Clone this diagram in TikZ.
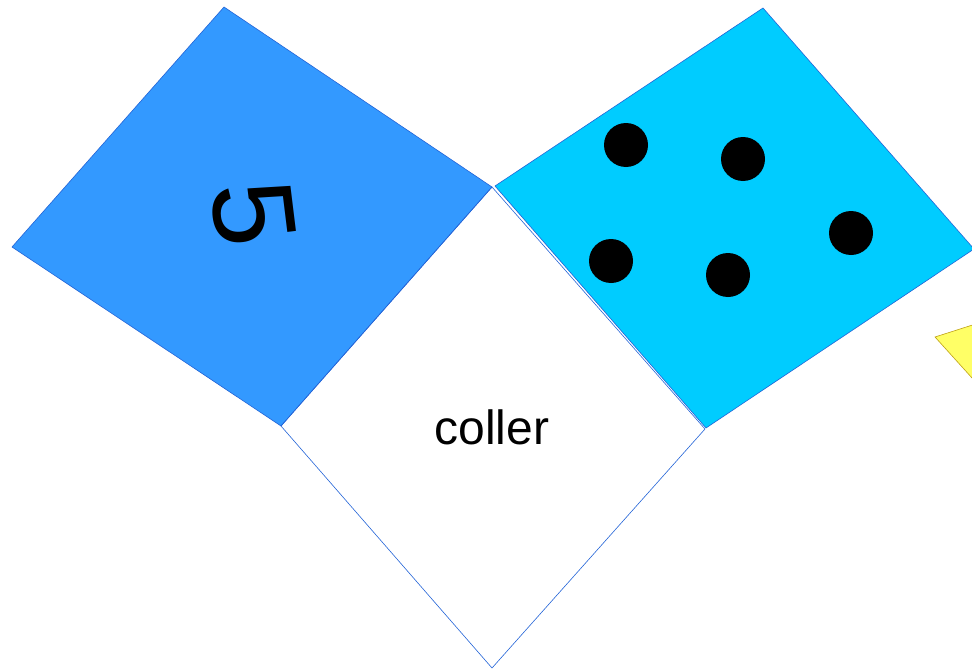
\documentclass[tikz,border=0pt]{standalone}
\usepackage{fontspec}
\setmainfont{Liberation Sans}
\usepackage{tikz}
\usetikzlibrary{positioning,calc}

\definecolor{faceblue}{RGB}{51,153,255}
\definecolor{facecyan}{RGB}{0,204,255}
\definecolor{edgeblue}{RGB}{35,100,215}
\definecolor{tabyellow}{RGB}{255,255,102}
\definecolor{tabedge}{RGB}{190,160,20}

\begin{document}
\begin{tikzpicture}[x=1pt,y=-1pt,
  face/.style={draw=edgeblue, line width=0.6pt, line join=miter},
  pip/.style={fill=black, circle, inner sep=0pt, minimum size=44pt}]
% Frame
\useasboundingbox (0,0) rectangle (972,669);
\clip (0,0) rectangle (972,669);
% Corners of the net
\coordinate (lt) at (224,7);
\coordinate (ll) at (12,247);
\coordinate (lb) at (281,426);
\coordinate (mt) at (492,187);
\coordinate (mb) at (492,668);
\coordinate (mr) at (705,429);
\coordinate (rl) at (495,186);
\coordinate (rt) at (763,8);
\coordinate (rr) at (974,249);
\coordinate (rb) at (706,428);
% Glue tab (cut by the frame)
\filldraw[fill=tabyellow, draw=tabedge, line width=0.6pt]
  (935,337) -- (1010,313) -- (1010,420) -- cycle;
% Left face
\filldraw[face, fill=faceblue] (lt) -- (mt) -- (lb) -- (ll) -- cycle;
\node[font=\fontsize{116}{116}\selectfont, rotate=-83] (five) at (253,214) {5};
% Middle face
\draw[face] (mt) -- (mr) -- (mb) -- (lb) -- cycle;
\node[font=\fontsize{48}{48}\selectfont, anchor=base] (glue) at (492,444) {coller};
% Right face
\filldraw[face, fill=facecyan] (rl) -- (rt) -- (rr) -- (rb) -- cycle;
\foreach \px/\py [count=\i] in {626/145, 743/159, 851/233, 611/261, 728/275} {
  \node[pip] (p\i) at (\px,\py) {};
}
\end{tikzpicture}
\end{document}
